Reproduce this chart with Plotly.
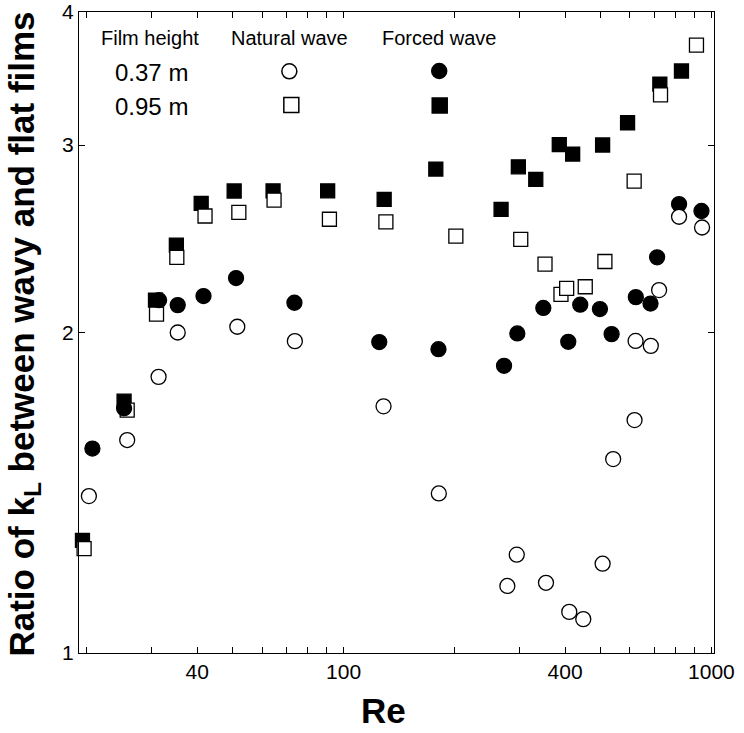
import plotly.graph_objects as go

# ---------------- data ----------------
# 0.37 m film, natural wave (open circles)
re_nat_037 = [20.3, 25.8, 31.4, 35.4, 51.4, 73.7, 128.4, 181.5, 278.7, 295.6, 355.0,
              410.7, 448.3, 506.0, 540.6, 618.0, 622.0, 684.2, 720.7, 816.6, 943.0]
kl_nat_037 = [1.404, 1.585, 1.817, 2.000, 2.025, 1.963, 1.705, 1.412, 1.156, 1.237, 1.164,
              1.093, 1.076, 1.213, 1.521, 1.655, 1.964, 1.943, 2.192, 2.569, 2.510]

# 0.37 m film, forced wave (filled circles)
re_frc_037 = [20.75, 25.3, 31.5, 35.4, 41.6, 51.0, 73.5, 125.0, 181.1, 273.0, 296.7,
              349.1, 408.1, 439.9, 497.6, 535.3, 623.0, 683.0, 711.8, 816.6, 939.5]
kl_frc_037 = [1.556, 1.698, 2.145, 2.122, 2.164, 2.250, 2.133, 1.959, 1.929, 1.861, 1.996,
              2.109, 1.960, 2.124, 2.104, 1.993, 2.159, 2.129, 2.353, 2.640, 2.601]

# 0.95 m film, natural wave (open squares)
re_nat_095 = [19.7, 25.8, 31.0, 35.2, 42.0, 51.9, 64.7, 91.5, 130.3, 201.9, 303.1,
              352.8, 389.9, 404.0, 453.9, 513.3, 616.5, 727.1, 910.6]
kl_nat_095 = [1.253, 1.691, 2.081, 2.353, 2.573, 2.593, 2.663, 2.555, 2.541, 2.464, 2.446,
              2.319, 2.172, 2.200, 2.208, 2.332, 2.775, 3.343, 3.724]

# 0.95 m film, forced wave (filled squares)
re_frc_095 = [19.5, 25.3, 30.8, 35.1, 41.0, 50.4, 64.3, 90.5, 128.9, 178.1, 268.0,
              298.6, 333.0, 385.8, 419.5, 506.0, 591.6, 724.0, 829.0]
kl_frc_095 = [1.276, 1.724, 2.145, 2.416, 2.644, 2.716, 2.717, 2.717, 2.667, 2.848, 2.610,
              2.862, 2.785, 3.002, 2.942, 3.000, 3.148, 3.423, 3.521]

x_tick_vals = [40, 100, 400, 1000]
x_tick_text = ["40", "100", "400", "1000"]
x_minor_vals = [20, 30, 50, 60, 70, 80, 90, 200, 300, 500, 600, 700, 800, 900]
y_tick_vals = [1, 2, 3, 4]
y_tick_text = ["1", "2", "3", "4"]

legend_header = ["Film height", "Natural wave", "Forced wave"]
legend_rows = ["0.37 m", "0.95 m"]

# ---------------- figure ----------------
W, H = 744, 733
L, R, T, B = 78.5, 30, 12, 80
pw, ph = W - L - R, H - T - B
FONT = "Liberation Sans, Arial, Helvetica, sans-serif"


def px(xp):
    return (xp - L) / pw


def py(yp):
    return (H - B - yp) / ph


MS = 15
series = [
    (re_frc_095, kl_frc_095, "square", "black"),
    (re_nat_095, kl_nat_095, "square", "white"),
    (re_frc_037, kl_frc_037, "circle", "black"),
    (re_nat_037, kl_nat_037, "circle", "white"),
]

fig = go.Figure()
for xs, ys, sym, col in series:
    fig.add_trace(go.Scatter(
        x=xs, y=ys, mode="markers", cliponaxis=False,
        marker=dict(symbol=sym, size=MS if sym == "circle" else MS - 1, color=col,
                    line=dict(color="black", width=1.3)),
        showlegend=False, hoverinfo="skip"))

axis_common = dict(
    showline=True, linecolor="black", linewidth=1.4, mirror="ticks",
    ticks="inside", ticklen=6, tickwidth=1.2, tickcolor="black",
    showgrid=False, zeroline=False,
    tickfont=dict(family=FONT, size=21, color="black"),
)

fig.update_xaxes(
    type="log", range=[1.2806, 3.007],
    tickmode="array", tickvals=x_tick_vals, ticktext=x_tick_text,
    minor=dict(tickmode="array", tickvals=x_minor_vals, ticks="inside",
               ticklen=6, tickwidth=1.0, tickcolor="black", showgrid=False),
    **axis_common)
fig.update_yaxes(
    type="log", range=[0, 0.60206],
    tickmode="array", tickvals=y_tick_vals, ticktext=y_tick_text,
    **axis_common)

annotations = []
# axis titles
annotations.append(dict(
    text="<b>Ratio of k<sub>L</sub> between wavy and flat films</b>", textangle=-90,
    xref="paper", yref="paper", x=px(23), y=py(334), showarrow=False,
    font=dict(family=FONT, size=35, color="black"), xanchor="center", yanchor="middle"))
annotations.append(dict(
    text="<b>Re</b>", xref="paper", yref="paper", x=px(383.5), y=py(732), showarrow=False,
    font=dict(family=FONT, size=35, color="black"), xanchor="center", yanchor="bottom"))

# legend table text
header_x = [150, 289.5, 439]
for txt, xc in zip(legend_header, header_x):
    annotations.append(dict(text=txt, xref="paper", yref="paper", x=px(xc), y=py(38.5),
                            showarrow=False, xanchor="center", yanchor="middle",
                            font=dict(family=FONT, size=20, color="black")))
row_y = [72.5, 106.5]
for txt, yc in zip(legend_rows, row_y):
    annotations.append(dict(text=txt, xref="paper", yref="paper", x=px(151), y=py(yc),
                            showarrow=False, xanchor="center", yanchor="middle",
                            font=dict(family=FONT, size=24, color="black")))

# legend key symbols (layout decoration in paper space)
shapes = []
r = 7.5
for (xc, yc, kind, fill) in [(289, 71.3, "circle", "white"), (439, 71, "circle", "black"),
                             (291, 105, "rect", "white"), (439.5, 105.5, "rect", "black")]:
    shapes.append(dict(type=kind, xref="paper", yref="paper",
                       x0=px(xc - r), x1=px(xc + r), y0=py(yc + r), y1=py(yc - r),
                       fillcolor=fill, line=dict(color="black", width=1.5)))

fig.update_layout(
    width=W, height=H,
    margin=dict(l=L, r=R, t=T, b=B, autoexpand=False),
    paper_bgcolor="white", plot_bgcolor="white",
    annotations=annotations, shapes=shapes,
    font=dict(family=FONT, color="black"),
)

fig.write_html("out.html", config={"displayModeBar": False},
               post_script="document.body.style.margin='0';")
